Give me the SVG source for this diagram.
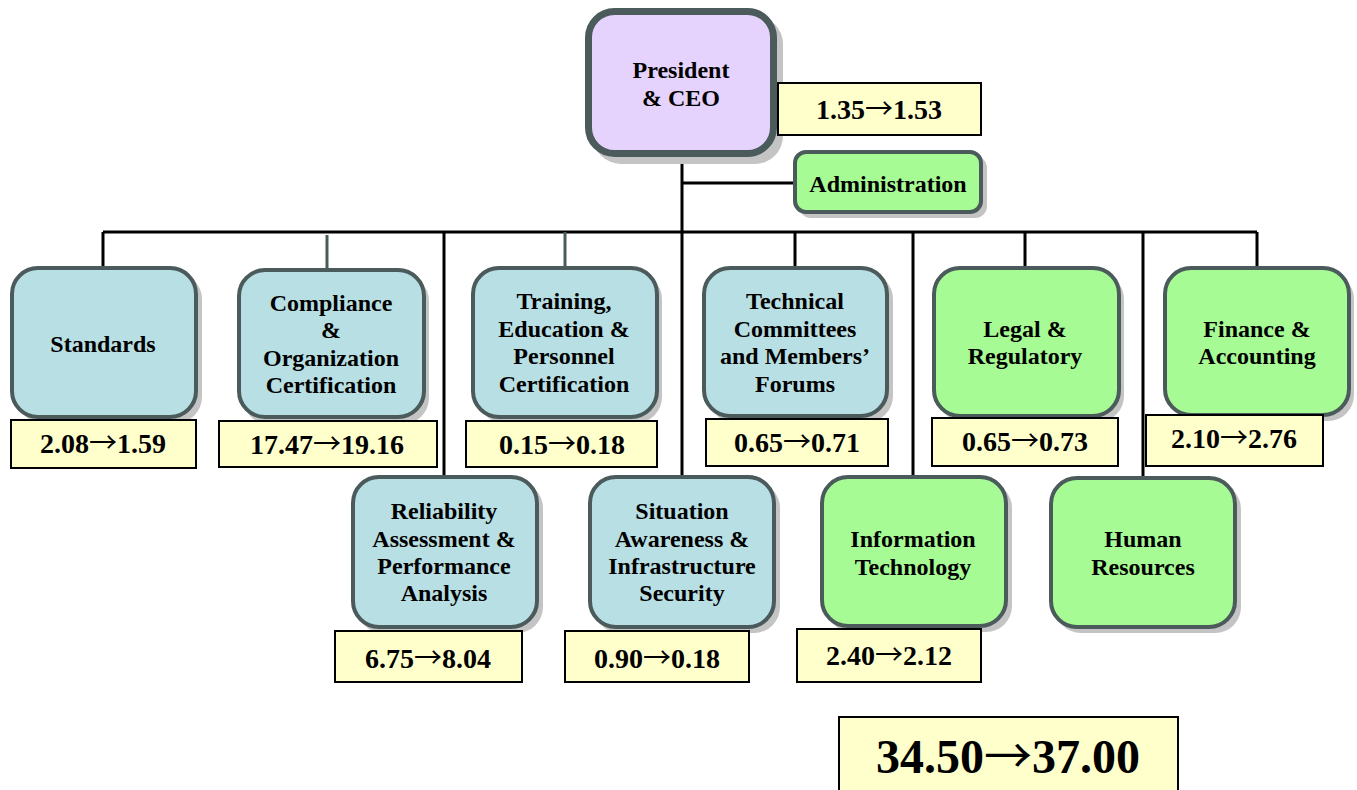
<svg xmlns="http://www.w3.org/2000/svg" width="1357" height="790" viewBox="0 0 1357 790">
<style>
text{font-family:"Liberation Serif","Times New Roman",serif;font-weight:bold;fill:#000;text-anchor:middle}
.a{font-family:"Noto Sans CJK JP","Liberation Serif",sans-serif;font-weight:normal}
.n{font-size:24px}
.v{font-size:28px}
.t{font-size:48px}
.sh{fill:#c4c4c4;stroke:none}
.blue{fill:#b8dfe3;stroke:#4b5a5b;stroke-width:4}
.green{fill:#a6fb94;stroke:#4b5a5b;stroke-width:4}
.pres{fill:#e6d3fd;stroke:#4b5a5b;stroke-width:7}
.val{fill:#ffffcc;stroke:#000;stroke-width:2}
.ln{stroke:#000;stroke-width:3;fill:none}
.lg{stroke:#4b5a5b;stroke-width:3;fill:none}
</style>
<rect width="1357" height="790" fill="#fff"/>
<g id="connectors">
<line class="ln" x1="682" y1="157" x2="682" y2="476"/>
<line class="ln" x1="682" y1="183" x2="795" y2="183"/>
<line class="ln" x1="103" y1="232" x2="1257" y2="232"/>
<line class="ln" x1="103" y1="232" x2="103" y2="267"/>
<line class="lg" x1="327" y1="235" x2="327" y2="269"/>
<line class="ln" x1="444" y1="232" x2="444" y2="476"/>
<line class="lg" x1="565" y1="232" x2="565" y2="267"/>
<line class="ln" x1="795" y1="232" x2="795" y2="267"/>
<line class="ln" x1="913" y1="232" x2="913" y2="476"/>
<line class="ln" x1="1025" y1="232" x2="1025" y2="267"/>
<line class="ln" x1="1143" y1="232" x2="1143" y2="477"/>
<line class="ln" x1="1257" y1="232" x2="1257" y2="267"/>
</g>
<g id="president">
<rect class="sh" x="593" y="16" width="190" height="148" rx="28"/>
<rect class="pres" x="588.500" y="11.500" width="185" height="142" rx="26"/>
<text class="n" x="681" y="78">President</text>
<text class="n" x="681" y="106">&amp; CEO</text>
<rect class="val" x="778" y="83" width="203" height="52"/>
<text class="v" x="879" y="119">1.35<tspan class="a">→</tspan>1.53</text>
</g>
<g id="administration">
<rect class="sh" x="799" y="156" width="188" height="62" rx="12"/>
<rect class="green" x="795" y="152" width="186" height="60" rx="11"/>
<text class="n" x="888" y="192">Administration</text>
</g>
<g id="standards">
<rect class="sh" x="17" y="273" width="185" height="150" rx="26"/>
<rect class="blue" x="12" y="268" width="184" height="149" rx="26"/>
<text class="n" x="103" y="352">Standards</text>
<rect class="val" x="11" y="420" width="185" height="48"/>
<text class="v" x="103" y="453">2.08<tspan class="a">→</tspan>1.59</text>
</g>
<g id="compliance">
<rect class="sh" x="243" y="275" width="186" height="149" rx="26"/>
<rect class="blue" x="239" y="270" width="185" height="147" rx="26"/>
<text class="n" x="331" y="311">Compliance</text>
<text class="n" x="331" y="338">&amp;</text>
<text class="n" x="331" y="366">Organization</text>
<text class="n" x="331" y="393">Certification</text>
<rect class="val" x="219" y="421" width="218" height="46"/>
<text class="v" x="327" y="454">17.47<tspan class="a">→</tspan>19.16</text>
</g>
<g id="training">
<rect class="sh" x="478" y="273" width="184" height="150" rx="26"/>
<rect class="blue" x="473" y="268" width="184" height="149" rx="26"/>
<text class="n" x="564" y="309">Training,</text>
<text class="n" x="564" y="337">Education &amp;</text>
<text class="n" x="564" y="364">Personnel</text>
<text class="n" x="564" y="392">Certification</text>
<rect class="val" x="466" y="421" width="191" height="46"/>
<text class="v" x="562" y="454">0.15<tspan class="a">→</tspan>0.18</text>
</g>
<g id="technical">
<rect class="sh" x="708" y="273" width="185" height="149" rx="26"/>
<rect class="blue" x="704" y="268" width="183" height="148" rx="26"/>
<text class="n" x="795" y="309">Technical</text>
<text class="n" x="795" y="337">Committees</text>
<text class="n" x="795" y="364">and Members’</text>
<text class="n" x="795" y="392">Forums</text>
<rect class="val" x="706" y="419" width="182" height="47"/>
<text class="v" x="797" y="452">0.65<tspan class="a">→</tspan>0.71</text>
</g>
<g id="legal">
<rect class="sh" x="938" y="273" width="186" height="149" rx="26"/>
<rect class="green" x="934" y="268" width="185" height="148" rx="26"/>
<text class="n" x="1025" y="337">Legal &amp;</text>
<text class="n" x="1025" y="364">Regulatory</text>
<rect class="val" x="932" y="418" width="186" height="48"/>
<text class="v" x="1025" y="451">0.65<tspan class="a">→</tspan>0.73</text>
</g>
<g id="finance">
<rect class="sh" x="1169" y="273" width="185" height="148" rx="26"/>
<rect class="green" x="1165" y="268" width="184" height="147" rx="26"/>
<text class="n" x="1257" y="337">Finance &amp;</text>
<text class="n" x="1257" y="364">Accounting</text>
<rect class="val" x="1146" y="415" width="177" height="51"/>
<text class="v" x="1234" y="448">2.10<tspan class="a">→</tspan>2.76</text>
</g>
<g id="reliability">
<rect class="sh" x="357" y="482" width="186" height="151" rx="26"/>
<rect class="blue" x="353" y="477" width="184" height="150" rx="26"/>
<text class="n" x="444" y="519">Reliability</text>
<text class="n" x="444" y="547">Assessment &amp;</text>
<text class="n" x="444" y="574">Performance</text>
<text class="n" x="444" y="601">Analysis</text>
<rect class="val" x="335" y="631" width="187" height="51"/>
<text class="v" x="428" y="668">6.75<tspan class="a">→</tspan>8.04</text>
</g>
<g id="situation">
<rect class="sh" x="594" y="482" width="186" height="151" rx="26"/>
<rect class="blue" x="590" y="477" width="184" height="150" rx="26"/>
<text class="n" x="682" y="519">Situation</text>
<text class="n" x="682" y="547">Awareness &amp;</text>
<text class="n" x="682" y="574">Infrastructure</text>
<text class="n" x="682" y="601">Security</text>
<rect class="val" x="565" y="631" width="184" height="51"/>
<text class="v" x="657" y="668">0.90<tspan class="a">→</tspan>0.18</text>
</g>
<g id="it">
<rect class="sh" x="826" y="482" width="186" height="150" rx="26"/>
<rect class="green" x="822" y="477" width="184" height="149" rx="26"/>
<text class="n" x="913" y="547">Information</text>
<text class="n" x="913" y="575">Technology</text>
<rect class="val" x="797" y="629" width="184" height="53"/>
<text class="v" x="889" y="665">2.40<tspan class="a">→</tspan>2.12</text>
</g>
<g id="hr">
<rect class="sh" x="1055" y="483" width="186" height="150" rx="26"/>
<rect class="green" x="1051" y="478" width="184" height="149" rx="26"/>
<text class="n" x="1143" y="547">Human</text>
<text class="n" x="1143" y="575">Resources</text>
</g>
<g id="total">
<rect class="val" x="839" y="717" width="339" height="80"/>
<text class="t" x="1008" y="773">34.50<tspan class="a">→</tspan>37.00</text>
</g>
</svg>
